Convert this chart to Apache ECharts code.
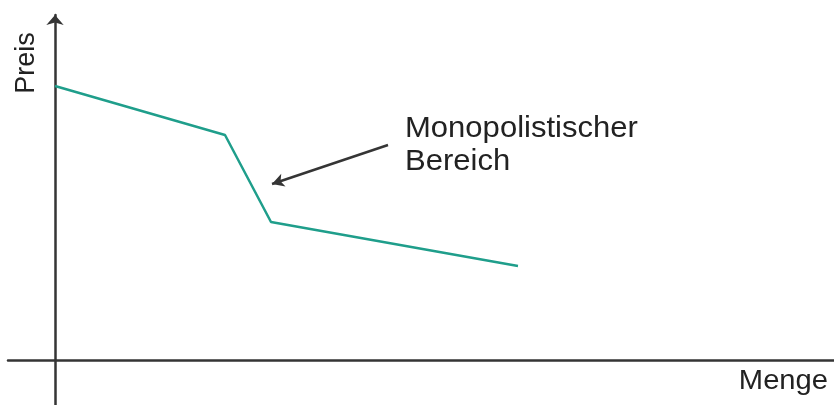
<!DOCTYPE html>
<html>
<head>
<meta charset="utf-8">
<script src="https://cdn.jsdelivr.net/npm/echarts@6/dist/echarts.min.js"></script>
<style>
  html, body { margin: 0; padding: 0; background: #fff; }
  #chart { width: 834px; height: 405px; }
</style>
</head>
<body>
<div id="chart"></div>
<script>
// Kinked demand curve (Menge vs. Preis), arbitrary units
var menge = [0, 17, 21.6, 46.3];
var preis = [27.4, 22.5, 13.8, 9.4];

// Annotation arrow: from label towards the steep segment
var arrowFrom = [33.3, 21.5];
var arrowTo = [21.7, 17.6];

var axisTitleX = 'Menge';
var axisTitleY = 'Preis';
var noteText = 'Monopolistischer\nBereich';

var chart = echarts.init(document.getElementById('chart'), null, { renderer: 'canvas' });

var axisColor = '#353535';
var curveColor = '#1f9e8b';
var textColor = '#222222';
var fontFamily = '"Liberation Sans", Arial, Helvetica, sans-serif';

chart.setOption({
  animation: false,
  backgroundColor: '#ffffff',
  grid: { left: 8, right: 0, top: 15, bottom: 0, containLabel: false },
  xAxis: {
    type: 'value',
    min: -4.7,
    max: 77.9,
    axisLine: { show: true, onZero: true, lineStyle: { color: axisColor, width: 2.5 } },
    axisTick: { show: false },
    axisLabel: { show: false },
    splitLine: { show: false }
  },
  yAxis: {
    type: 'value',
    min: -4.5,
    max: 34.5,
    axisLine: {
      show: true, onZero: true,
      symbol: ['none', 'arrow'],
      symbolSize: [13, 10],
      lineStyle: { color: axisColor, width: 2.5 }
    },
    axisTick: { show: false },
    axisLabel: { show: false },
    splitLine: { show: false }
  },
  series: [
    {
      type: 'line',
      data: menge.map(function (m, i) { return [m, preis[i]]; }),
      showSymbol: false,
      symbol: 'none',
      lineStyle: { color: curveColor, width: 2.5 },
      markLine: {
        silent: true,
        symbol: ['none', 'arrow'],
        symbolSize: [10, 12],
        label: { show: false },
        lineStyle: { color: axisColor, width: 2.5, type: 'solid' },
        data: [[
          { coord: arrowFrom },
          { coord: arrowTo }
        ]]
      }
    }
  ],
  graphic: [
    {
      type: 'text',
      x: 405, y: 112.5,
      scaleX: 1.07,
      style: {
        text: noteText,
        font: '29px ' + fontFamily,
        lineHeight: 33,
        fill: textColor,
        align: 'left',
        verticalAlign: 'top'
      }
    },
    {
      type: 'text',
      x: 828, y: 382,
      scaleX: 1.08,
      style: {
        text: axisTitleX,
        font: '27px ' + fontFamily,
        fill: textColor,
        align: 'right',
        verticalAlign: 'middle'
      }
    },
    {
      type: 'text',
      x: 27, y: 63,
      rotation: Math.PI / 2,
      style: {
        text: axisTitleY,
        font: '27px ' + fontFamily,
        fill: textColor,
        align: 'center',
        verticalAlign: 'middle'
      }
    }
  ]
});
</script>
</body>
</html>
